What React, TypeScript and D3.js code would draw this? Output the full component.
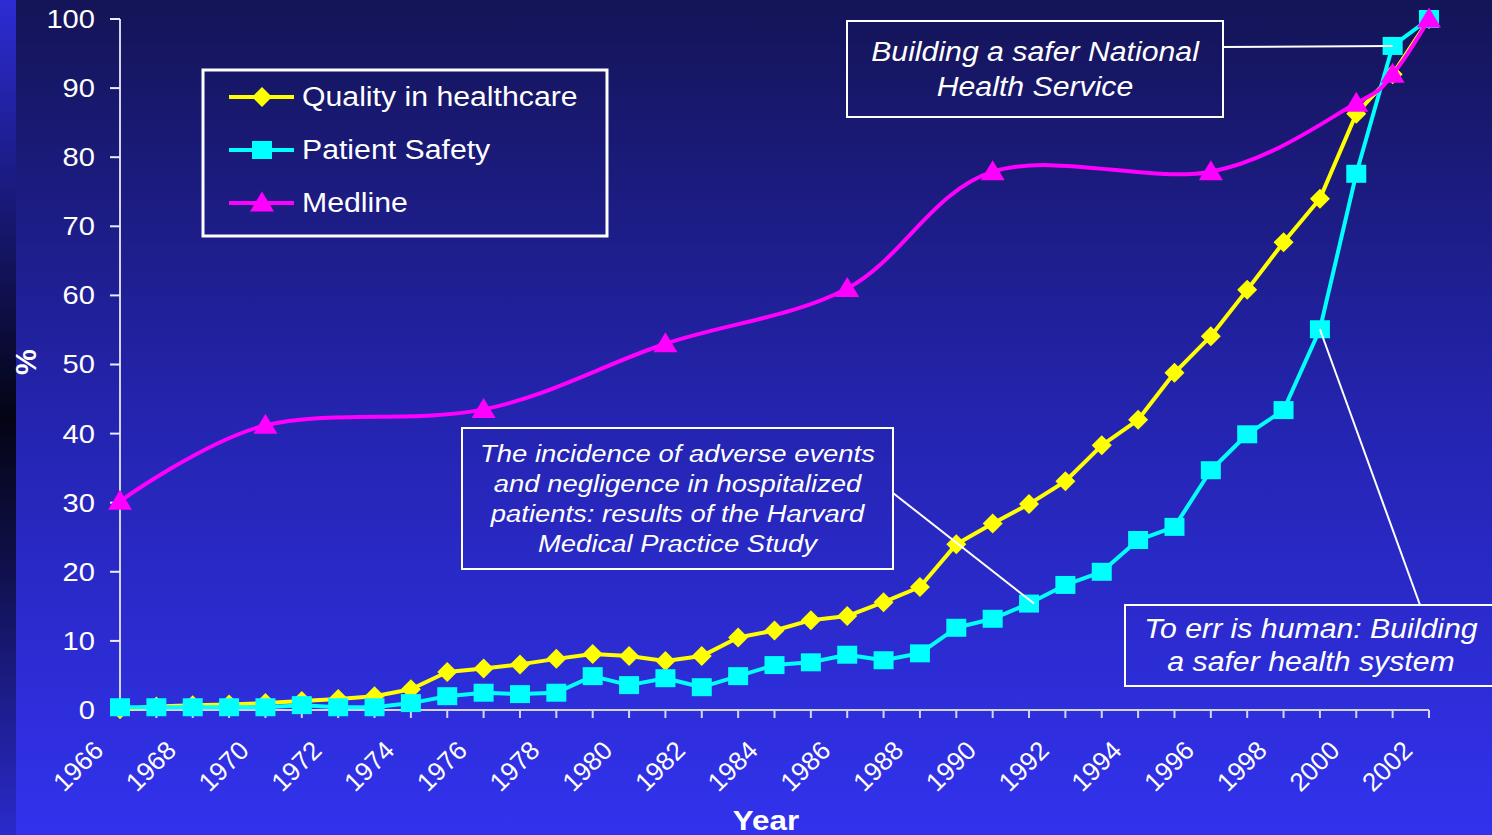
import { useMemo } from 'react';
import * as d3 from 'd3';

const WIDTH = 1492;
const HEIGHT = 835;
// plot area: y axis sits at x=120, x axis at y=710
const MARGIN = { top: 19, right: 63, bottom: 125, left: 120 };
const SX = 1.12; // slide text is stretched sideways a little
const FONT = "'Liberation Sans', Arial, Helvetica, sans-serif";

const years = [
  1966, 1967, 1968, 1969, 1970, 1971, 1972, 1973, 1974, 1975, 1976, 1977, 1978,
  1979, 1980, 1981, 1982, 1983, 1984, 1985, 1986, 1987, 1988, 1989, 1990, 1991,
  1992, 1993, 1994, 1995, 1996, 1997, 1998, 1999, 2000, 2001, 2002,
];

const quality = [
  0.1, 0.5, 0.7, 0.8, 1.0, 1.3, 1.6, 2.0, 3.0, 5.5, 6.0, 6.6, 7.4, 8.1, 7.8, 7.1,
  7.8, 10.5, 11.5, 13.0, 13.6, 15.6, 17.8, 24.0, 27.0, 29.8, 33.1, 38.3, 42.0,
  48.8, 54.1, 60.8, 67.7, 74.0, 86.3, 92.0, 100,
];

const patientSafety = [
  0.4, 0.4, 0.4, 0.4, 0.4, 0.7, 0.4, 0.4, 1.0, 2.0, 2.5, 2.3, 2.5, 4.9, 3.6, 4.6,
  3.3, 4.9, 6.5, 6.9, 8.0, 7.2, 8.2, 11.9, 13.2, 15.4, 18.1, 20.0, 24.6, 26.5,
  34.7, 39.9, 43.4, 55.1, 77.6, 96.1, 100,
];

const medlineYears = [1966, 1970, 1976, 1981, 1986, 1990, 1996, 2000, 2001, 2002];
const medline = [30.2, 41.2, 43.5, 53.0, 61.0, 77.9, 77.9, 87.8, 92.0, 100];

const yearLabels = [
  1966, 1968, 1970, 1972, 1974, 1976, 1978, 1980, 1982, 1984, 1986, 1988, 1990,
  1992, 1994, 1996, 1998, 2000, 2002,
];

const seriesNames = ['Quality in healthcare', 'Patient Safety', 'Medline'];
const seriesColors = ['#ffff00', '#00ffff', '#ff00ff'];

const notes = [
  { lines: ['Building a safer National', 'Health Service'], year: 2001 },
  {
    lines: [
      'The incidence of adverse events',
      'and negligence in hospitalized',
      'patients: results of the Harvard',
      'Medical Practice Study',
    ],
    year: 1991,
  },
  { lines: ['To err is human: Building', 'a safer health system'], year: 1999 },
];

const shapes: { [k: string]: string } = {
  diamond: 'M0,-10L10,0L0,10L-10,0Z',
  square: 'M-10,-9H10V9H-10Z',
  triangle: 'M0,-11.5L12,8.5H-12Z',
};

type LabelProps = {
  x: number;
  y: number;
  size: number;
  anchor?: string;
  italic?: boolean;
  bold?: boolean;
  children: any;
};

const Label = ({ x, y, size, anchor = 'middle', italic, bold, children }: LabelProps) => (
  <text
    transform={`translate(${x},${y}) scale(${SX},1)`}
    fontSize={size}
    fontFamily={FONT}
    fontStyle={italic ? 'italic' : 'normal'}
    fontWeight={bold ? 'bold' : 'normal'}
    textAnchor={anchor}
    dominantBaseline="central"
    fill="#ffffff"
  >
    {children}
  </text>
);

export default function App() {
  const boundsWidth = WIDTH - MARGIN.left - MARGIN.right;
  const boundsHeight = HEIGHT - MARGIN.top - MARGIN.bottom;

  const xScale = useMemo(
    () => d3.scaleLinear().domain([1966, 2002]).range([MARGIN.left, MARGIN.left + boundsWidth]),
    [boundsWidth]
  );
  const yScale = useMemo(
    () => d3.scaleLinear().domain([0, 100]).range([MARGIN.top + boundsHeight, MARGIN.top]),
    [boundsHeight]
  );
  const y0 = yScale(0);

  const straight = d3
    .line<number>()
    .x((_, i) => xScale(years[i]))
    .y((d) => yScale(d));

  const smooth = d3
    .line<number>()
    .x((_, i) => xScale(medlineYears[i]))
    .y((d) => yScale(d))
    .curve(d3.curveCardinal.tension(0));

  // leader line end points sit on the patient safety points
  const safetyAt = (yr: number) => patientSafety[years.indexOf(yr)];

  const boxes = [
    { x: 847, y: 21, w: 376, h: 96, size: 27, lineGap: 35, from: [1223, 47] },
    { x: 462, y: 428, w: 431, h: 141, size: 24.5, lineGap: 30.3, from: [893, 493] },
    { x: 1125, y: 605, w: 380, h: 81, size: 27, lineGap: 33, from: [1420, 605] },
  ];

  return (
    <svg
      width={WIDTH}
      height={HEIGHT}
      style={{ position: 'absolute', left: 0, top: 0 }}
    >
      <defs>
        <linearGradient id="bg" x1="0" y1="0" x2="0" y2="1">
          <stop offset="0" stopColor="#141457" />
          <stop offset="0.5" stopColor="#2424b0" />
          <stop offset="1" stopColor="#3232ee" />
        </linearGradient>
        <linearGradient id="strip" x1="0" y1="0" x2="0" y2="1">
          <stop offset="0" stopColor="#2c2cd4" />
          <stop offset="0.3" stopColor="#141462" />
          <stop offset="0.5" stopColor="#040414" />
          <stop offset="0.68" stopColor="#10104c" />
          <stop offset="1" stopColor="#2a2acc" />
        </linearGradient>
      </defs>
      <rect x={0} y={0} width={WIDTH} height={HEIGHT} fill="url(#bg)" />
      <rect x={0} y={0} width={16} height={HEIGHT} fill="url(#strip)" />

      {/* y axis */}
      <line x1={MARGIN.left} x2={MARGIN.left} y1={yScale(100)} y2={y0} stroke="#d4d4f0" strokeWidth={2} />
      {yScale.ticks(10).map((t) => (
        <g key={t}>
          <line x1={MARGIN.left - 10} x2={MARGIN.left} y1={yScale(t)} y2={yScale(t)} stroke="#ececff" strokeWidth={2} />
          <Label x={95} y={yScale(t)} size={26} anchor="end">
            {t}
          </Label>
        </g>
      ))}

      {/* x axis */}
      <line x1={MARGIN.left} x2={xScale(2002)} y1={y0} y2={y0} stroke="#d4d4f0" strokeWidth={2} />
      {years.map((yr) => (
        <line key={yr} x1={xScale(yr)} x2={xScale(yr)} y1={y0} y2={y0 + 8} stroke="#d4d4f0" strokeWidth={2} />
      ))}
      {yearLabels.map((yr) => (
        <text
          key={yr}
          transform={`translate(${xScale(yr) - 15},752) rotate(-45)`}
          fontSize={26}
          fontFamily={FONT}
          textAnchor="end"
          fill="#ffffff"
        >
          {yr}
        </text>
      ))}

      <Label x={766} y={820} size={28} bold>
        Year
      </Label>
      <text
        transform="translate(26,362) rotate(-90)"
        fontSize={29}
        fontWeight="bold"
        fontFamily={FONT}
        textAnchor="middle"
        dominantBaseline="central"
        fill="#ffffff"
      >
        %
      </text>

      {/* Quality in healthcare */}
      <path d={straight(quality) || ''} fill="none" stroke={seriesColors[0]} strokeWidth={4} strokeLinejoin="round" />
      {quality.map((v, i) => (
        <path key={i} d={shapes.diamond} transform={`translate(${xScale(years[i])},${yScale(v)})`} fill={seriesColors[0]} />
      ))}

      {/* Patient Safety */}
      <path d={straight(patientSafety) || ''} fill="none" stroke={seriesColors[1]} strokeWidth={4} strokeLinejoin="round" />
      {patientSafety.map((v, i) => (
        <path key={i} d={shapes.square} transform={`translate(${xScale(years[i])},${yScale(v)})`} fill={seriesColors[1]} />
      ))}

      {/* Medline */}
      <path d={smooth(medline) || ''} fill="none" stroke={seriesColors[2]} strokeWidth={4} />
      {medline.map((v, i) => (
        <path key={i} d={shapes.triangle} transform={`translate(${xScale(medlineYears[i])},${yScale(v)})`} fill={seriesColors[2]} />
      ))}

      {/* annotations */}
      {notes.map((n, k) => {
        const b = boxes[k];
        const cx = b.x + b.w / 2;
        const first = b.y + b.h / 2 - ((n.lines.length - 1) * b.lineGap) / 2;
        return (
          <g key={k}>
            <line
              x1={b.from[0]}
              y1={b.from[1]}
              x2={xScale(n.year) + (k === 1 ? 5 : 0)}
              y2={yScale(safetyAt(n.year))}
              stroke="#ffffff"
              strokeWidth={2}
            />
            <rect x={b.x} y={b.y} width={b.w} height={b.h} fill="none" stroke="#ffffff" strokeWidth={2} />
            {n.lines.map((l, j) => (
              <Label key={j} x={k === 2 ? 1311 : cx} y={first + j * b.lineGap} size={b.size} italic>
                {l}
              </Label>
            ))}
          </g>
        );
      })}

      {/* legend */}
      <rect x={203} y={70} width={404} height={166} fill="none" stroke="#ffffff" strokeWidth={3} />
      {seriesNames.map((name, i) => {
        const ly = 97 + i * 53;
        const shape = ['diamond', 'square', 'triangle'][i];
        return (
          <g key={name}>
            <line x1={229} x2={294} y1={ly} y2={ly} stroke={seriesColors[i]} strokeWidth={4} />
            <path d={shapes[shape]} transform={`translate(262,${ly})`} fill={seriesColors[i]} />
            <Label x={302} y={ly} size={27} anchor="start">
              {name}
            </Label>
          </g>
        );
      })}
    </svg>
  );
}
